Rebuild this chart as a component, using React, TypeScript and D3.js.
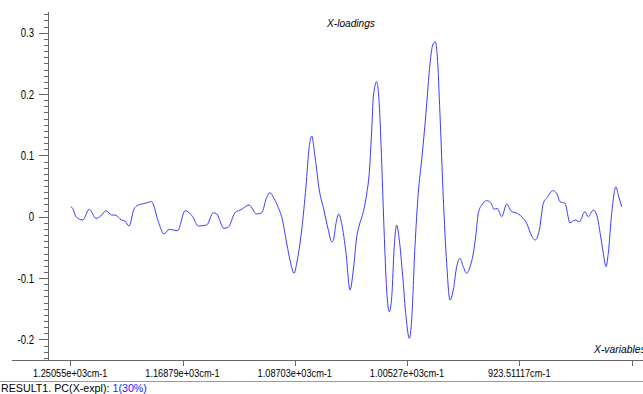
import React from "react";
import * as d3 from "d3";

// X-loadings of PC1 over the wavenumber range (cm-1)
const wavenumbers: number[] = [
  1250.3, 1248.8, 1246.4, 1241.5, 1236.7, 1231.8, 1228.4, 1224.5, 1220.4, 1218.0,
  1213.1, 1210.7, 1207.8, 1204.2, 1201.0, 1196.1, 1191.3, 1186.4, 1182.3, 1178.4,
  1172.3, 1167.0, 1161.4, 1157.3, 1151.2, 1146.4, 1143.9, 1138.6, 1135.5, 1130.6,
  1125.7, 1120.4, 1114.8, 1111.1, 1107.5, 1105.1, 1102.2, 1099.1, 1096.6, 1092.9,
  1090.0, 1087.6, 1085.2, 1082.0, 1078.9, 1076.5, 1074.7, 1072.3, 1069.2, 1065.8,
  1062.6, 1060.1, 1059.0, 1057.0, 1055.0, 1052.9, 1049.7, 1046.8, 1044.4, 1041.9,
  1040.0, 1037.1, 1034.6, 1032.8, 1031.0, 1029.8, 1027.4, 1025.4, 1023.7, 1022.0,
  1020.1, 1018.2, 1016.4, 1014.6, 1012.8, 1010.9, 1008.4, 1006.0, 1003.6, 1001.9,
  999.5, 997.1, 994.6, 991.5, 988.5, 986.6, 984.7, 983.2, 981.3, 978.9,
  976.4, 974.0, 971.6, 969.1, 966.7, 964.3, 961.8, 959.4, 957.0, 955.0,
  953.4, 950.9, 947.2, 944.3, 941.9, 939.5, 936.3, 932.7, 929.0, 925.9,
  921.8, 918.1, 914.5, 912.0, 908.9, 906.0, 903.1, 899.2, 896.3, 893.9,
  890.2, 886.6, 882.9, 879.8, 875.7, 873.3, 869.6, 867.1, 864.2, 862.3,
  860.3, 858.7, 856.2, 853.1, 851.4, 848.9,
];

const loadings: number[] = [
  0.0163, 0.0137, 0.0, -0.0054, 0.0121, -0.0026, 0.0011, 0.0098, 0.0028, 0.0028,
  -0.0054, -0.007, -0.0152, 0.0121, 0.0191, 0.0218, 0.0245, -0.0082, -0.0282, -0.0205,
  -0.0228, 0.0098, 0.0, -0.0152, -0.0135, 0.0065, 0.0044, -0.0189, -0.0173, 0.0065,
  0.0121, 0.0191, 0.0044, 0.0065, 0.0316, 0.0391, 0.03, 0.0153, 0.0, -0.0434,
  -0.076, -0.0923, -0.0706, -0.0217, 0.0489, 0.1141, 0.1316, 0.0978, 0.0435, 0.0109,
  -0.0217, -0.0408, -0.0391, -0.0108, 0.0044, -0.0108, -0.0597, -0.1195, -0.0869, -0.0326,
  -0.0135, 0.0082, 0.0382, 0.0708, 0.1414, 0.1957, 0.2201, 0.1794, 0.0871, -0.0217,
  -0.1195, -0.1549, -0.1304, -0.0489, -0.0135, -0.038, -0.0978, -0.1631, -0.1983, -0.1684,
  -0.0489, 0.0382, 0.0925, 0.1686, 0.2501, 0.28, 0.2853, 0.2609, 0.1686, 0.0326,
  -0.076, -0.1358, -0.1195, -0.0815, -0.0678, -0.0815, -0.0923, -0.0815, -0.0597, -0.0271,
  0.0055, 0.0191, 0.0261, 0.0228, 0.0121, 0.0137, 0.0, 0.0207, 0.0082, 0.0065,
  0.0, -0.0108, -0.0315, -0.038, -0.0217, 0.0218, 0.0316, 0.0424, 0.0382, 0.0245,
  0.0218, -0.0098, -0.0054, -0.0082, 0.0082, 0.0, 0.0109, 0.0028, -0.0326, -0.0597,
  -0.0815, -0.0597, 0.0055, 0.0489, 0.0354, 0.0163,
];

const xTickValues: number[] = [1250.55, 1168.79, 1087.03, 1005.27, 923.51117, 841.75];
const xTickLabels: string[] = [
  "1.25055e+03cm-1",
  "1.16879e+03cm-1",
  "1.08703e+03cm-1",
  "1.00527e+03cm-1",
  "923.51117cm-1",
  "",
];
const yTickValues: number[] = [-0.2, -0.1, 0, 0.1, 0.2, 0.3];
const yTickLabels: string[] = ["-0.2", "-0.1", "0", "0.1", "0.2", "0.3"];

const W = 643;
const H = 394;
const AXIS_X = 48;
const AXIS_Y = 360;
const TOP = 12;
const LEFT = 12;

const FONT = "'Liberation Sans', Arial, sans-serif";

type TextProps = {
  x: number;
  y: number;
  anchor?: "start" | "middle" | "end";
  italic?: boolean;
  size?: number;
  squeeze?: number;
  children: React.ReactNode;
};

// Condensed label: horizontal squeeze around its anchor point
function NarrowText({
  x,
  y,
  anchor = "start",
  italic = false,
  size = 11.5,
  squeeze = 0.8,
  children,
}: TextProps) {
  return (
    <g transform={`translate(${x},${y}) scale(${squeeze},1)`}>
      <text
        x={0}
        y={0}
        textAnchor={anchor}
        fontFamily={FONT}
        fontSize={size}
        fontStyle={italic ? "italic" : "normal"}
        fill="#000"
      >
        {children}
      </text>
    </g>
  );
}

export default function App() {
  const x = d3.scaleLinear().domain([1293.0, 833.4]).range([LEFT, W]);
  const y = d3.scaleLinear().domain([-0.2336, 0.3338]).range([AXIS_Y, TOP]);

  const points: [number, number][] = wavenumbers.map((w, i) => [w, loadings[i]]);
  const line = d3
    .line<[number, number]>()
    .x((d) => x(d[0]))
    .y((d) => y(d[1]))
    .curve(d3.curveMonotoneX);

  const [yMin, yMax] = y.domain();
  const minorTicks = d3
    .range(Math.ceil(yMin * 100), Math.floor(yMax * 100) + 1)
    .map((k) => k / 100);

  return (
    <svg
      width={W}
      height={H}
      viewBox={`0 0 ${W} ${H}`}
      style={{ position: "absolute", left: 0, top: 0, background: "#fff" }}
    >
      <rect x={0} y={0} width={W} height={H} fill="#fff" />

      {/* title */}
      <NarrowText x={351} y={27} anchor="middle" italic squeeze={0.88}>
        X-loadings
      </NarrowText>

      {/* y axis */}
      <line x1={AXIS_X + 0.5} x2={AXIS_X + 0.5} y1={TOP} y2={AXIS_Y} stroke="#666" strokeWidth={1} />
      {minorTicks.map((v) => (
        <line
          key={`m${v}`}
          x1={AXIS_X - 4}
          x2={AXIS_X}
          y1={Math.round(y(v)) + 0.5}
          y2={Math.round(y(v)) + 0.5}
          stroke="#666"
          strokeWidth={1}
        />
      ))}
      {yTickValues.map((v, i) => (
        <g key={`y${v}`}>
          <line
            x1={AXIS_X - 9}
            x2={AXIS_X}
            y1={Math.round(y(v)) + 0.5}
            y2={Math.round(y(v)) + 0.5}
            stroke="#666"
            strokeWidth={1}
          />
          <NarrowText x={34} y={y(v) + 4.5} anchor="end" size={12}>
            {yTickLabels[i]}
          </NarrowText>
        </g>
      ))}

      {/* x axis */}
      <line x1={LEFT} x2={W} y1={AXIS_Y + 0.5} y2={AXIS_Y + 0.5} stroke="#666" strokeWidth={1} />
      {xTickValues.map((v, i) => (
        <g key={`x${v}`}>
          <line
            x1={Math.round(x(v)) + 0.5}
            x2={Math.round(x(v)) + 0.5}
            y1={AXIS_Y}
            y2={AXIS_Y + 6}
            stroke="#666"
            strokeWidth={1}
          />
          {xTickLabels[i] && (
            <NarrowText x={x(v)} y={377} anchor="middle">
              {xTickLabels[i]}
            </NarrowText>
          )}
        </g>
      ))}
      <NarrowText x={594} y={353} italic squeeze={0.9}>
        X-variables
      </NarrowText>

      {/* loading curve */}
      <path d={line(points) ?? ""} fill="none" stroke="#3c3cff" strokeWidth={1} />

      {/* status line */}
      <line x1={0} x2={W} y1={381.5} y2={381.5} stroke="#999" strokeWidth={1} />
      <g transform="translate(1,392) scale(0.93,1)">
        <text x={0} y={0} fontFamily={FONT} fontSize={11.5} fill="#000">
          RESULT1. PC(X-expl):{" "}
          <tspan fill="#1a1aff">1(30%)</tspan>
        </text>
      </g>
    </svg>
  );
}
